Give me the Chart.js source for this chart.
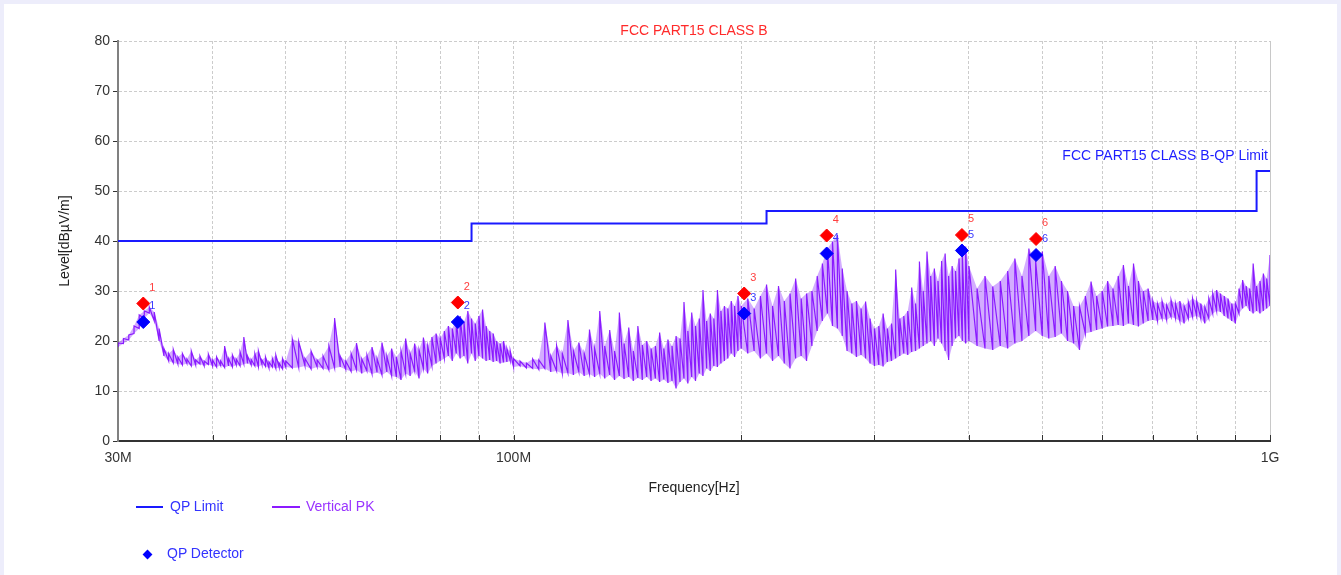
<!DOCTYPE html>
<html><head><meta charset="utf-8">
<script src="https://cdn.jsdelivr.net/npm/chart.js@4.4.1/dist/chart.umd.min.js"></script>
<style>
html,body{margin:0;padding:0;background:#ededfb;width:1341px;height:575px;overflow:hidden;font-family:"Liberation Sans",Arial,sans-serif;}
#card{position:absolute;left:4px;top:4px;width:1333px;height:571px;background:#fff;}
#c{position:absolute;left:0;top:0;}
.lg{position:absolute;font-size:14px;line-height:16px;white-space:nowrap;}
</style></head><body>
<div id="card"></div>
<canvas id="c" width="1341" height="575"></canvas>
<div class="lg" style="left:136px;top:506px;width:27px;height:2px;background:#1a1aff"></div>
<div class="lg" style="left:170px;top:498px;color:#3333ff">QP Limit</div>
<div class="lg" style="left:272px;top:506px;width:28px;height:2px;background:#8c1aff"></div>
<div class="lg" style="left:306px;top:498px;color:#9933ff">Vertical PK</div>
<div class="lg" style="left:143.5px;top:551px;width:7px;height:7px;background:#0000ff;transform:rotate(45deg)"></div>
<div class="lg" style="left:167px;top:545px;color:#3333ff">QP Detector</div>
<script>
// ---------- data ----------
const chartTitle = 'FCC PART15 CLASS B';
const limitTitle = 'FCC PART15 CLASS B-QP Limit';
const xGrid = [30,40,50,60,70,80,90,100,200,300,400,500,600,700,800,900,1000];
const xLabelValues = [30,100,1000];
const xLabelTexts = ['30M','100M','1G'];
const yTickStep = 10;

const limitFreq  = [30, 88, 88, 216, 216, 960, 960, 1000];
const limitLevel = [40, 40, 43.5, 43.5, 46, 46, 54, 54];

const markNo      = ['1','2','3','4','5','6'];
const markFreq    = [32.4, 84.4, 201.8, 259.4, 391.5, 490.6];
const pkMarkLevel = [27.5, 27.7, 29.5, 41.1, 41.2, 40.4];
const qpMarkLevel = [23.8, 23.8, 25.5, 37.5, 38.1, 37.2];

const pkFreq = [
 30,30.5,31,31.5,32,32.5,33,33.5,34,34.5,35,35.5,36,36.5,37,37.5,38,38.5,39,39.5,
 40,40.5,41,41.5,42,42.5,43,43.5,44,44.5,45,45.5,46,46.5,47,47.5,48,48.5,49,49.5,
 50,51,52,53,54,55,56,57,58,59,60,61,62,63,64,65,66,67,68,69,
 70,71,72,73,74,75,76,77,78,79,80,81,82,83,84,85,86,87,88,89,
 90,91,92,93,94,95,96,97,98,99,
 100,102,104,106,108,110,112,114,116,118,120,122,124,126,128,130,132,134,136,138,
 140,142,144,146,148,150,152,154,156,158,160,162,164,166,168,170,172,174,176,178,
 180,182,184,186,188,190,192,194,196,198,
 200,204,208,212,216,220,224,228,232,236,240,244,248,252,256,260,264,268,272,276,
 280,284,288,292,296,300,304,308,312,316,320,324,328,332,336,340,344,348,352,356,
 360,364,368,372,376,380,384,388,392,396,
 400,410,420,430,440,450,460,470,480,490,500,510,520,530,540,550,560,570,580,590,
 600,610,620,630,640,650,660,670,680,690,700,710,720,730,740,750,760,770,780,790,
 800,810,820,830,840,850,860,870,880,890,900,910,920,930,940,950,960,970,980,990,
 1000];

const pkFloor = [
 18.8,19.5,20.2,21.5,22.5,24.5,25.6,24.0,20.0,17.0,16.0,15.6,15.4,15.2,15.5,15.0,15.2,15.4,15.0,15.3,
 15.0,14.8,15.1,14.7,15.0,14.8,15.2,15.0,15.4,15.5,15.2,15.0,14.8,15.3,14.9,14.6,14.8,14.5,14.7,14.4,
 14.8,14.6,14.7,15.0,14.4,14.8,14.5,14.2,14.6,14.8,14.3,13.9,14.2,13.5,14.0,13.4,13.7,13.2,13.8,13.0,
 12.8,12.2,13.5,13.0,14.0,12.5,14.5,13.5,15.0,15.5,16.0,16.5,17.0,16.0,17.5,16.5,17.0,15.5,17.5,16.0,
 17.0,16.5,16.0,16.2,15.8,16.0,15.5,15.7,15.8,16.0,
 14.8,15.0,14.6,14.5,14.3,14.5,13.8,14.0,13.5,13.6,13.2,13.8,13.0,13.4,12.8,13.5,12.5,13.2,12.2,13.0,
 12.4,12.8,12.0,12.6,12.2,12.8,12.0,12.5,11.8,12.3,11.6,12.0,10.5,11.8,12.5,11.5,12.8,12.0,13.5,13.0,
 14.5,14.0,15.0,14.8,15.5,16.0,16.5,17.5,16.8,18.0,
 18.5,17.5,18.0,16.5,17.5,16.0,17.0,15.5,14.5,16.5,17.0,16.0,19.0,22.0,24.0,25.5,23.0,22.5,21.0,18.0,
 17.5,16.8,17.2,16.5,15.5,15.0,15.2,14.9,15.8,16.0,16.5,17.0,17.5,17.2,17.8,18.0,18.5,19.0,19.5,20.0,
 19.0,20.5,19.5,18.0,16.2,19.0,20.5,21.0,20.0,19.5,
 20.0,19.0,18.5,18.2,19.0,18.5,19.5,20.0,21.0,22.0,21.0,20.5,20.8,21.5,20.0,19.5,18.2,21.5,21.8,22.2,
 22.5,22.9,23.0,23.2,23.0,23.5,23.2,22.9,23.5,24.0,24.2,24.0,24.5,24.2,24.8,24.5,24.0,23.5,24.5,24.8,
 25.0,24.5,23.5,24.5,25.5,26.0,25.8,25.0,24.5,24.0,23.5,25.5,26.5,27.0,26.0,25.5,26.0,25.5,26.0,26.5,
 27.0];

const pkTop = [
 19.6,20.5,21.2,23.0,25.2,26.0,26.8,25.8,22.5,18.5,17.5,18.3,16.8,17.5,16.4,18.0,16.2,17.0,16.0,17.4,
 16.2,16.8,16.0,19.0,16.5,17.2,16.4,17.8,20.8,17.0,16.3,17.5,18.0,16.2,16.8,15.8,16.5,17.2,15.6,16.5,
 16.0,20.4,19.9,16.5,18.0,16.2,17.0,19.0,24.6,17.0,16.0,17.5,19.6,16.4,17.2,18.8,16.5,19.7,17.0,18.5,
 16.8,18.0,20.5,17.5,19.5,18.2,20.7,19.0,20.8,21.5,20.5,22.0,23.0,22.5,24.3,25.0,23.8,26.0,24.5,23.5,
 25.0,26.3,23.0,22.0,21.5,20.0,19.5,20.0,18.5,18.0,
 16.5,16.0,15.6,16.4,16.2,23.7,17.0,19.1,17.5,24.2,18.0,19.7,17.5,22.3,18.5,26.0,19.0,22.2,18.0,25.7,
 19.5,22.7,18.0,23.0,19.2,20.0,18.5,19.0,21.7,18.5,20.3,19.0,21.0,20.5,27.8,22.0,25.7,23.0,24.5,30.2,
 24.0,25.5,24.5,30.2,26.0,27.0,26.5,28.0,27.0,29.0,
 27.0,28.5,26.5,29.0,31.3,27.0,31.0,28.0,29.5,32.5,28.5,29.5,30.0,33.0,35.5,38.5,39.9,41.2,34.5,30.0,
 27.5,28.0,26.5,27.9,24.5,22.5,23.0,25.5,22.5,23.5,34.3,24.5,25.0,26.0,30.7,27.5,35.9,30.0,37.9,33.0,
 34.5,32.0,36.0,37.5,33.0,35.0,34.0,36.5,37.0,38.9,
 35.0,30.5,33.0,30.9,32.0,34.0,36.5,33.0,38.5,36.0,37.9,33.0,35.0,32.0,30.0,27.0,26.9,29.0,31.9,29.0,
 30.0,32.0,30.5,33.0,35.2,31.0,35.5,32.0,30.0,30.5,28.0,27.5,28.0,27.2,28.2,27.5,28.0,27.0,27.8,28.5,
 28.0,27.5,26.8,28.5,29.5,30.2,29.5,29.0,28.5,27.5,27.5,30.5,32.2,31.0,30.5,35.5,31.0,32.0,33.5,32.5,
 37.2];

// ---------- build ----------
const FONT = '"Liberation Sans", Arial, sans-serif';
const limitPts = limitFreq.map((f,i)=>({x:f, y:limitLevel[i]}));
const pkPts = [];
pkFreq.forEach((f,i)=>{ pkPts.push({x:f, y:pkFloor[i]}); pkPts.push({x:f, y:pkTop[i]}); });
const floorPts = pkFreq.map((f,i)=>({x:f, y:pkFloor[i]}));
const topPts = pkFreq.map((f,i)=>({x:f, y:pkTop[i]}));
const pkMarkPts = markFreq.map((f,i)=>({x:f, y:pkMarkLevel[i]}));
const qpMarkPts = markFreq.map((f,i)=>({x:f, y:qpMarkLevel[i]}));

const annot = {
  id:'annot',
  afterDraw(chart){
    const {ctx, chartArea:a, scales:{x,y}} = chart;
    ctx.save();
    ctx.strokeStyle = '#c8c8c8'; ctx.lineWidth = 1; ctx.setLineDash([]);
    ctx.beginPath(); ctx.moveTo(a.right+0.5, a.top); ctx.lineTo(a.right+0.5, a.bottom); ctx.stroke();
    ctx.strokeStyle = '#333';
    xGrid.forEach(v=>{ if (v===xGrid[0]) return;
      const px = Math.round(x.getPixelForValue(v))+0.5;
      ctx.beginPath(); ctx.moveTo(px, a.bottom); ctx.lineTo(px, a.bottom-6); ctx.stroke(); });
    ctx.font = '14px '+FONT; ctx.textBaseline = 'middle';
    ctx.fillStyle = '#ff2a2a'; ctx.textAlign = 'center';
    ctx.fillText(chartTitle, (a.left+a.right)/2, 31);
    ctx.fillStyle = '#1e1eff'; ctx.textAlign = 'right';
    ctx.fillText(limitTitle, a.right-2, 156);
    ctx.font = '11px '+FONT; ctx.textAlign = 'left';
    markFreq.forEach((f,i)=>{
      const px = x.getPixelForValue(f);
      ctx.fillStyle = '#ff4040';
      ctx.fillText(markNo[i], px+6, y.getPixelForValue(pkMarkLevel[i])-16);
      ctx.fillStyle = '#3a3aff';
      ctx.fillText(markNo[i], px+6, y.getPixelForValue(qpMarkLevel[i])-16);
    });
    ctx.restore();
  }
};

new Chart(document.getElementById('c'), {
  type:'line',
  data:{ datasets:[
    {label:'QP Detector', data:qpMarkPts, showLine:false, pointStyle:'rectRot', pointRadius:6.5, borderWidth:1,
     backgroundColor:'#0000ff', borderColor:'#0000ff', order:0},
    {label:'PK', data:pkMarkPts, showLine:false, pointStyle:'rectRot', pointRadius:6.5, borderWidth:1,
     backgroundColor:'#ff0000', borderColor:'#ff0000', order:1},
    {label:'Vertical PK', data:pkPts, borderColor:'rgba(125,0,255,0.85)', borderWidth:1.2, pointRadius:0, tension:0, order:2},
    {label:'QP Limit', data:limitPts, borderColor:'#1a1aff', borderWidth:2, pointRadius:0, tension:0, order:3},
    {label:'floor', data:floorPts, borderWidth:0, borderColor:'rgba(0,0,0,0)', pointRadius:0, tension:0, order:5},
    {label:'band', data:topPts, borderWidth:0, borderColor:'rgba(0,0,0,0)', pointRadius:0, tension:0, order:4,
     fill:'-1', backgroundColor:'rgba(140,40,255,0.38)'}
  ]},
  options:{
    responsive:false, animation:false, events:[],
    layout:{padding:{left:0, right:71, top:41, bottom:75}},
    plugins:{legend:{display:false}, tooltip:{enabled:false}, title:{display:false}, filler:{propagate:false}},
    scales:{
      x:{type:'logarithmic', min:30, max:1000,
        afterBuildTicks:s=>{ s.ticks = xGrid.map(v=>({value:v})); },
        afterFit:s=>{ s.height = 59; },
        ticks:{autoSkip:false, maxRotation:0, minRotation:0, padding:9, color:'#333', font:{family:FONT, size:14},
          callback:(v)=>{ const k = xLabelValues.indexOf(v); return k>=0 ? xLabelTexts[k] : ''; }},
        grid:{color:'#cccccc', lineWidth:1, drawTicks:false},
        border:{color:'#333', width:2, dash:[3,2]},
        title:{display:true, text:'Frequency[Hz]', color:'#222', font:{family:FONT, size:14}, padding:{top:0,bottom:3}}
      },
      y:{min:0, max:80,
        afterFit:s=>{ s.width = 118; },
        ticks:{stepSize:yTickStep, color:'#333', padding:3, font:{family:FONT, size:14}},
        grid:{color:'#cccccc', lineWidth:1, tickColor:'#333', tickLength:5, tickBorderDash:[]},
        border:{color:'#808080', width:2, dash:[3,2]},
        title:{display:true, text:'Level[dBµV/m]', color:'#222', font:{family:FONT, size:14}, padding:{top:57,bottom:0}}
      }
    }
  },
  plugins:[annot]
});
</script>
</body></html>
